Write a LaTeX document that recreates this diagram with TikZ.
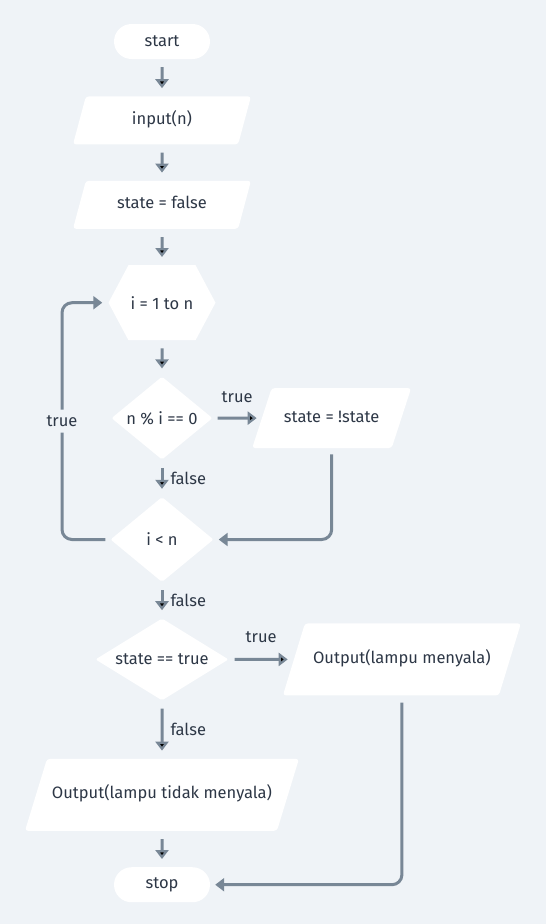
\documentclass[tikz,border=0pt]{standalone}
\usepackage{fontspec}
\setmainfont{Fira Sans}
\usepackage{tikz}
\usetikzlibrary{arrows.meta, positioning, shapes.geometric, shapes.symbols}

\definecolor{bgcol}{RGB}{239,243,247}
\definecolor{flowcol}{RGB}{120,135,150}
\definecolor{txtcol}{RGB}{45,55,70}

\begin{document}
\begin{tikzpicture}[
  font=\fontsize{16.5}{19}\selectfont, text=txtcol,
  box/.style={fill=white, inner sep=0pt},
  term/.style={box, rectangle, rounded corners=17.5pt, minimum width=96pt, minimum height=35pt},
  io/.style={box, trapezium, trapezium left angle=75, trapezium right angle=105, trapezium stretches body=true, rounded corners=3pt, text height=12pt, text depth=4pt, inner ysep=#1},
  io/.default=16pt,
  dec/.style={box, diamond, rounded corners=2pt},
  flow/.style={draw=flowcol, line width=3pt, -{Triangle[width=13pt, length=9pt]}, shorten >=8pt, shorten <=8pt},
  lbl/.style={inner sep=2pt}
]

% background and page size
\fill [bgcol] (0,0) rectangle (546pt,-924pt);
\useasboundingbox (0,0) rectangle (546pt,-924pt);

\node [term                                   ] (start) at (162pt,-41.5pt) {start};
\node [io, below=37pt of start, minimum width=178pt] (in)  {input(n)};
\node [io, below=36pt of in   , minimum width=178pt] (sf)  {state = false};
\node [box, signal, signal to=east and west, signal pointer angle=124, below=36pt of sf, minimum width=107pt, minimum height=75pt] (loop) {i = 1 to n};
\node [dec, below=36pt of loop, minimum width=101pt, minimum height=83pt, aspect=1.22] (mod) {n \% i == 0};
\node [io=22pt, right=49pt of mod, minimum width=159pt, trapezium left angle=72, trapezium right angle=108] (flip) {state = !state};
\node [dec, below=37pt of mod , minimum width=103pt, minimum height=85pt, aspect=1.21] (lt)  {i < n};
\node [dec, below=36pt of lt  , minimum width=133pt, minimum height=82pt, aspect=1.62] (chk) {state == true};
\node [io=28pt, right=65pt of chk, minimum width=238pt, trapezium left angle=73, trapezium right angle=107] (on)  {Output(lampu menyala)};
\node [io=28pt, below=58pt of chk, minimum width=274pt, trapezium left angle=73, trapezium right angle=107] (off) {Output(lampu tidak menyala)};
\node [term, below=36pt of off] (stop) {stop};

\path [flow] (start) edge (in);
\path [flow] (in)    edge (sf);
\path [flow] (sf)    edge (loop);
\path [flow] (loop)  edge (mod);
\path [flow, shorten >=5pt, shorten <=5pt] (mod) edge node [lbl, above=12pt] (t1) {true} (flip);
\path [flow] (mod)   edge node [lbl, right=5pt] (f1) {false} (lt);
\path [flow] (lt)    edge node [lbl, right=5pt] (f2) {false} (chk);
\path [flow, shorten >=6pt, shorten <=6pt] (chk) edge node [lbl, above=13pt] (t3) {true} (on);
\path [flow] (chk)   edge node [lbl, right=5pt] (f3) {false} (off);
\path [flow] (off)   edge (stop);

% loops back
\draw [flow, rounded corners=10pt, shorten <=6pt, shorten >=5pt] (flip) |- (lt);
\draw [flow, rounded corners=10pt, shorten <=5pt, shorten >=6pt] (lt) -- ++(-100pt,0) |- node [lbl, pos=0.25, fill=bgcol, inner ysep=6pt] (t2) {true} (loop);
\draw [flow, rounded corners=10pt, shorten <=7pt, shorten >=5pt] (on) |- (stop);

\end{tikzpicture}
\end{document}
